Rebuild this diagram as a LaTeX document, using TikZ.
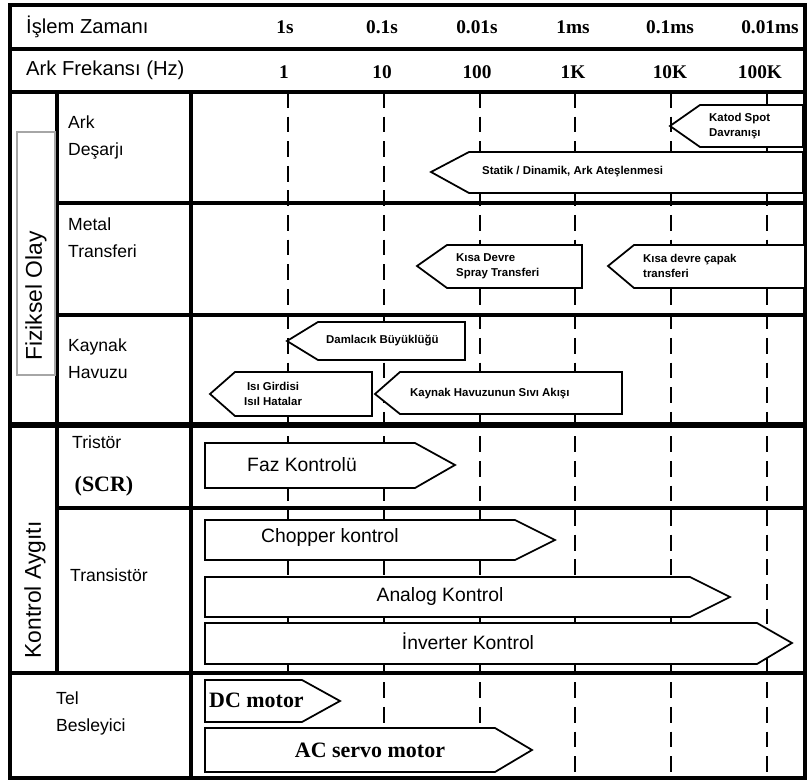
\documentclass[tikz,border=0pt]{standalone}
\usepackage{fontspec}
\setmainfont{Liberation Serif}
\setsansfont{Liberation Sans}
\begin{document}
\begin{tikzpicture}[
    x=0.02cm, y=-0.02cm,
    sep/.style={line width=2.4pt},
    tick/.style={line width=1pt, dash pattern=on 9pt off 5pt},
    hdr/.style={anchor=west, font=\sffamily\fontsize{11.5}{13}\selectfont},
    num/.style={font=\bfseries\fontsize{11}{13}\selectfont},
    lbl/.style={anchor=north west, align=left, font=\sffamily\fontsize{10}{15}\selectfont},
    grp/.style={rotate=90, font=\sffamily\fontsize{13}{15}\selectfont},
    box/.style={draw, line width=1pt, fill=white},
    evt/.style={anchor=west, align=left, font=\sffamily\bfseries\fontsize{6.5}{8.5}\selectfont},
    ctl/.style={font=\sffamily\fontsize{11}{13}\selectfont},
    mot/.style={font=\bfseries\fontsize{12.5}{14}\selectfont}
]
\useasboundingbox (0,0) rectangle (809,783);
\fill[white] (0,0) rectangle (809,783);

% Scale lines
\foreach \x in {288,384,480,575,671,767}
    \draw[tick] (\x,92) -- (\x,778);

% Header
\node[hdr] (tlabel) at (20,27) {İşlem Zamanı};
\node[hdr] (flabel) at (20,70) {Ark Frekansı (Hz)};
\foreach \i/\x/\t in {1/285/1s, 2/382/0.1s, 3/477/0.01s, 4/573/1ms, 5/670/0.1ms, 6/770/0.01ms}
    \node[num] (t\i) at (\x,27) {\t};
\foreach \i/\x/\f in {1/284/1, 2/382/10, 3/477/100, 4/573/1K, 5/670/10K, 6/760/100K}
    \node[num] (f\i) at (\x,72) {\f};

% Grid
\draw[sep] (10,5) rectangle (805,778);
\draw[sep] (10,49) -- (805,49);
\draw[sep] (10,92) -- (805,92);
\draw[sep] (57,92) -- (57,673);
\draw[sep] (191,92) -- (191,778);
\draw[sep] (57,203) -- (805,203);
\draw[sep] (57,315) -- (805,315);
\draw[line width=3pt] (10,425) -- (805,425);
\draw[sep] (57,508) -- (805,508);
\draw[sep] (10,673) -- (805,673);

% Group and row labels
\draw[gray!70, line width=0.6pt] (17,132) rectangle (55,375);
\node[grp] (fiz) at (36,296) {Fiziksel Olay};
\node[grp] (kon) at (35,590) {Kontrol Aygıtı};
\node[lbl] (ark) at (62,110) {Ark\\Deşarjı};
\node[lbl] (met) at (62,212) {Metal\\Transferi};
\node[lbl] (kay) at (62,333) {Kaynak\\Havuzu};
\node[lbl] (tri) at (66,430) {Tristör};
\node[mot] (scr) at (104,486) {(SCR)};
\node[lbl] (tra) at (64,563) {Transistör};
\node[lbl] (tel) at (50,686) {Tel\\Besleyici};

% Physical phenomena (pointing left)
\draw[box] (670,126) -- (700,105) -- (803,105) -- (803,147) -- (700,147) -- cycle;
\node[evt] (katod) at (703,126) {Katod Spot\\Davranışı};
\draw[box] (431,172) -- (469,152) -- (803,152) -- (803,193) -- (469,193) -- cycle;
\node[evt] (statik) at (476,172) {Statik / Dinamik, Ark Ateşlenmesi};
\draw[box] (417,266) -- (447,245) -- (582,245) -- (582,288) -- (447,288) -- cycle;
\node[evt] (spray) at (450,266) {Kısa Devre\\Spray Transferi};
\draw[box] (608,266) -- (634,245) -- (805,245) -- (805,288) -- (634,288) -- cycle;
\node[evt] (capak) at (637,266) {Kısa devre çapak\\transferi};
\draw[box] (287,341) -- (318,322) -- (465,322) -- (465,360) -- (318,360) -- cycle;
\node[evt] (damla) at (320,341) {Damlacık Büyüklüğü};
\draw[box] (210,394) -- (235,372) -- (372,372) -- (372,416) -- (235,416) -- cycle;
\node[evt, align=center] (isi) at (238,394) {Isı Girdisi\\Isıl Hatalar};
\draw[box] (375,394) -- (400,372) -- (622,372) -- (622,414) -- (400,414) -- cycle;
\node[evt] (havuz) at (404,394) {Kaynak Havuzunun Sıvı Akışı};

% Control devices (pointing right)
\draw[box] (205,443) -- (415,443) -- (455,465) -- (415,488) -- (205,488) -- cycle;
\node[ctl] (faz) at (302,465) {Faz Kontrolü};
\draw[box] (205,520) -- (515,520) -- (555,540) -- (515,560) -- (205,560) -- cycle;
\node[ctl] (chop) at (330,538) {Chopper kontrol};
\draw[box] (205,577) -- (690,577) -- (730,597) -- (690,617) -- (205,617) -- cycle;
\node[ctl] (anal) at (440,597) {Analog Kontrol};
\draw[box] (205,623) -- (757,623) -- (792,643) -- (757,664) -- (205,664) -- cycle;
\node[ctl] (inv) at (468,641) {İnverter Kontrol};

% Wire feeder
\draw[box] (205,680) -- (302,680) -- (340,701) -- (302,722) -- (205,722) -- cycle;
\node[mot, anchor=west] (dc) at (203,700) {DC motor};
\draw[box] (205,728) -- (495,728) -- (532,750) -- (495,772) -- (205,772) -- cycle;
\node[mot] (ac) at (370,750) {AC servo motor};
\end{tikzpicture}
\end{document}
